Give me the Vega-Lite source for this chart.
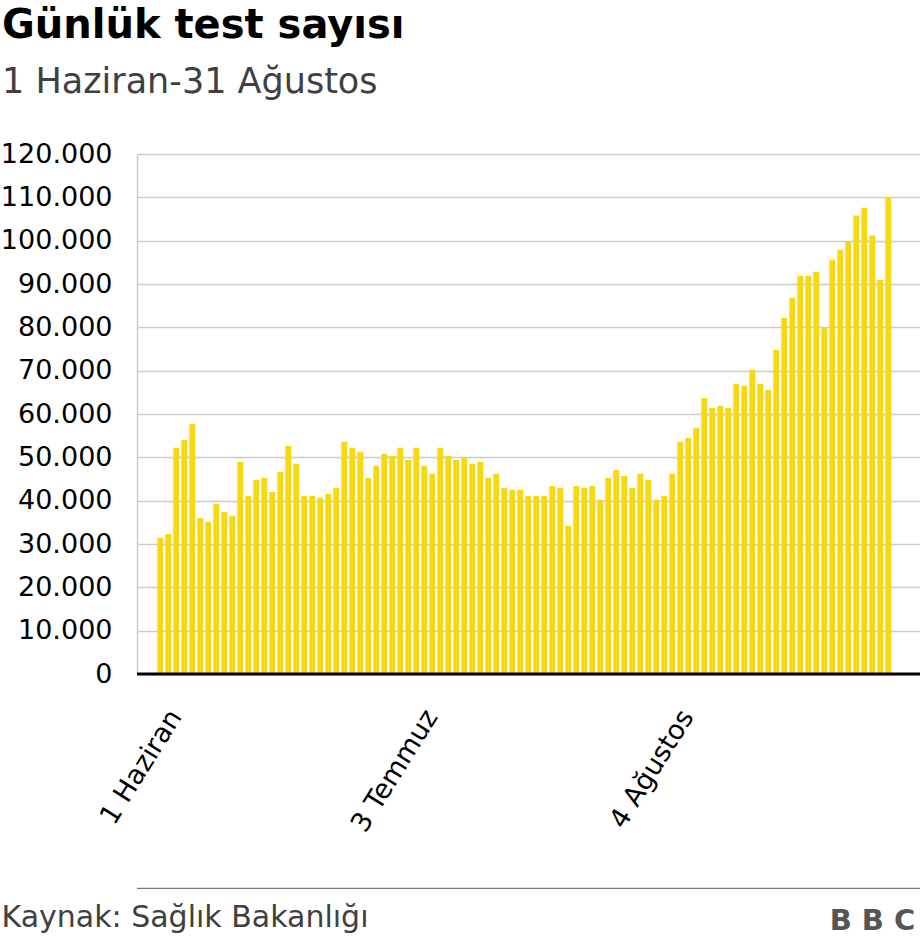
{
  "$schema": "https://vega.github.io/schema/vega-lite/v6.json",
  "width": 783,
  "height": 520,
  "autosize": {"type": "none"},
  "padding": {"left": 137, "top": 154, "right": 0, "bottom": 270},
  "background": "white",
  "title": {
    "text": "Günlük test sayısı",
    "subtitle": "1 Haziran-31 Ağustos",
    "anchor": "start",
    "frame": "group",
    "dx": -135,
    "offset": 40,
    "font": "DejaVu Sans",
    "fontSize": 40,
    "fontWeight": "bold",
    "color": "#000000",
    "subtitleFont": "DejaVu Sans",
    "subtitleFontSize": 35,
    "subtitleColor": "#404040",
    "subtitlePadding": 19
  },
  "data": {
    "values": [
      {"tarih": "2020-06-01", "test": 31400},
      {"tarih": "2020-06-02", "test": 32300},
      {"tarih": "2020-06-03", "test": 52200},
      {"tarih": "2020-06-04", "test": 54000},
      {"tarih": "2020-06-05", "test": 57700},
      {"tarih": "2020-06-06", "test": 36000},
      {"tarih": "2020-06-07", "test": 35100},
      {"tarih": "2020-06-08", "test": 39300},
      {"tarih": "2020-06-09", "test": 37400},
      {"tarih": "2020-06-10", "test": 36500},
      {"tarih": "2020-06-11", "test": 49000},
      {"tarih": "2020-06-12", "test": 41100},
      {"tarih": "2020-06-13", "test": 44800},
      {"tarih": "2020-06-14", "test": 45300},
      {"tarih": "2020-06-15", "test": 42000},
      {"tarih": "2020-06-16", "test": 46700},
      {"tarih": "2020-06-17", "test": 52700},
      {"tarih": "2020-06-18", "test": 48500},
      {"tarih": "2020-06-19", "test": 41100},
      {"tarih": "2020-06-20", "test": 41100},
      {"tarih": "2020-06-21", "test": 40600},
      {"tarih": "2020-06-22", "test": 41600},
      {"tarih": "2020-06-23", "test": 43000},
      {"tarih": "2020-06-24", "test": 53600},
      {"tarih": "2020-06-25", "test": 52200},
      {"tarih": "2020-06-26", "test": 51300},
      {"tarih": "2020-06-27", "test": 45300},
      {"tarih": "2020-06-28", "test": 48000},
      {"tarih": "2020-06-29", "test": 50800},
      {"tarih": "2020-06-30", "test": 50300},
      {"tarih": "2020-07-01", "test": 52200},
      {"tarih": "2020-07-02", "test": 49400},
      {"tarih": "2020-07-03", "test": 52200},
      {"tarih": "2020-07-04", "test": 48000},
      {"tarih": "2020-07-05", "test": 46200},
      {"tarih": "2020-07-06", "test": 52200},
      {"tarih": "2020-07-07", "test": 50300},
      {"tarih": "2020-07-08", "test": 49400},
      {"tarih": "2020-07-09", "test": 49900},
      {"tarih": "2020-07-10", "test": 48500},
      {"tarih": "2020-07-11", "test": 49000},
      {"tarih": "2020-07-12", "test": 45300},
      {"tarih": "2020-07-13", "test": 46200},
      {"tarih": "2020-07-14", "test": 43000},
      {"tarih": "2020-07-15", "test": 42500},
      {"tarih": "2020-07-16", "test": 42500},
      {"tarih": "2020-07-17", "test": 41100},
      {"tarih": "2020-07-18", "test": 41100},
      {"tarih": "2020-07-19", "test": 41100},
      {"tarih": "2020-07-20", "test": 43400},
      {"tarih": "2020-07-21", "test": 43000},
      {"tarih": "2020-07-22", "test": 34200},
      {"tarih": "2020-07-23", "test": 43400},
      {"tarih": "2020-07-24", "test": 43000},
      {"tarih": "2020-07-25", "test": 43400},
      {"tarih": "2020-07-26", "test": 40200},
      {"tarih": "2020-07-27", "test": 45300},
      {"tarih": "2020-07-28", "test": 47100},
      {"tarih": "2020-07-29", "test": 45700},
      {"tarih": "2020-07-30", "test": 43000},
      {"tarih": "2020-07-31", "test": 46200},
      {"tarih": "2020-08-01", "test": 44800},
      {"tarih": "2020-08-02", "test": 40200},
      {"tarih": "2020-08-03", "test": 41100},
      {"tarih": "2020-08-04", "test": 46200},
      {"tarih": "2020-08-05", "test": 53600},
      {"tarih": "2020-08-06", "test": 54500},
      {"tarih": "2020-08-07", "test": 56800},
      {"tarih": "2020-08-08", "test": 63700},
      {"tarih": "2020-08-09", "test": 61400},
      {"tarih": "2020-08-10", "test": 61900},
      {"tarih": "2020-08-11", "test": 61400},
      {"tarih": "2020-08-12", "test": 67000},
      {"tarih": "2020-08-13", "test": 66500},
      {"tarih": "2020-08-14", "test": 70200},
      {"tarih": "2020-08-15", "test": 67000},
      {"tarih": "2020-08-16", "test": 65600},
      {"tarih": "2020-08-17", "test": 74800},
      {"tarih": "2020-08-18", "test": 82200},
      {"tarih": "2020-08-19", "test": 86800},
      {"tarih": "2020-08-20", "test": 91900},
      {"tarih": "2020-08-21", "test": 91900},
      {"tarih": "2020-08-22", "test": 92800},
      {"tarih": "2020-08-23", "test": 79900},
      {"tarih": "2020-08-24", "test": 95600},
      {"tarih": "2020-08-25", "test": 97900},
      {"tarih": "2020-08-26", "test": 99800},
      {"tarih": "2020-08-27", "test": 105800},
      {"tarih": "2020-08-28", "test": 107600},
      {"tarih": "2020-08-29", "test": 101200},
      {"tarih": "2020-08-30", "test": 91000},
      {"tarih": "2020-08-31", "test": 109900}
    ]
  },
  "layer": [
    {
      "mark": {"type": "bar", "color": "#f6d913", "width": 6},
      "encoding": {
        "x": {
          "field": "tarih",
          "type": "temporal",
          "scale": {
            "type": "utc",
            "nice": false,
            "padding": 0,
            "domain": [
              {"year": 2020, "month": 5, "date": 29, "hours": 2, "minutes": 6, "utc": true},
              {"year": 2020, "month": 9, "date": 3, "hours": 23, "minutes": 6, "utc": true}
            ]
          },
          "axis": {
            "values": [
              {"year": 2020, "month": 6, "date": 1, "utc": true},
              {"year": 2020, "month": 7, "date": 3, "utc": true},
              {"year": 2020, "month": 8, "date": 4, "utc": true}
            ],
            "labelExpr": "utcdate(datum.value) + ' ' + ['Ocak','Şubat','Mart','Nisan','Mayıs','Haziran','Temmuz','Ağustos','Eylül','Ekim','Kasım','Aralık'][utcmonth(datum.value)]",
            "labelAngle": -58,
            "labelAlign": "right",
            "labelBaseline": "middle",
            "labelFont": "DejaVu Sans",
            "labelFontSize": 27,
            "labelColor": "#000000",
            "labelOffset": 15,
            "labelPadding": 38,
            "labelOverlap": false,
            "labelBound": false,
            "labelFlush": false,
            "ticks": false,
            "grid": false,
            "domain": false,
            "zindex": 1,
            "title": "Kaynak: Sağlık Bakanlığı",
            "titleFont": "DejaVu Sans",
            "titleFontSize": 30,
            "titleFontWeight": "normal",
            "titleColor": "#404040",
            "titleAnchor": "start",
            "titleAlign": "left",
            "titleBaseline": "alphabetic",
            "titleAngle": 0,
            "titleX": -136,
            "titleY": 252.7
          }
        },
        "y": {
          "field": "test",
          "type": "quantitative",
          "scale": {"domain": [0, 120000], "nice": false, "zero": true},
          "axis": {
            "values": [0, 10000, 20000, 30000, 40000, 50000, 60000, 70000, 80000, 90000, 100000, 110000, 120000],
            "labelExpr": "replace(format(datum.value, ','), ',', '.')",
            "labelFont": "DejaVu Sans",
            "labelFontSize": 27,
            "labelColor": "#000000",
            "labelPadding": 25,
            "ticks": false,
            "domain": true,
            "domainColor": "#cccccc",
            "domainWidth": 1.5,
            "grid": true,
            "gridColor": "#cccccc",
            "gridWidth": 1.5,
            "title": null
          }
        }
      }
    },
    {
      "data": {"values": [{"ayirici": "alt çizgi", "deger": -49450}]},
      "mark": {"type": "rule", "color": "#777777", "strokeWidth": 1.3},
      "encoding": {
        "y": {"field": "deger", "type": "quantitative", "axis": null}
      }
    },
    {
      "data": {"values": [{"taban": 0}]},
      "mark": {"type": "rule", "color": "#000000", "strokeWidth": 3},
      "encoding": {
        "y": {
          "field": "taban",
          "type": "quantitative",
          "axis": {
            "orient": "right",
            "labels": false,
            "ticks": false,
            "domain": false,
            "grid": false,
            "title": "B B C",
            "titleFont": "DejaVu Sans",
            "titleFontSize": 29,
            "titleFontWeight": "bold",
            "titleColor": "#555555",
            "titleAngle": 0,
            "titleAlign": "center",
            "titleBaseline": "alphabetic",
            "titleX": -48,
            "titleY": 775
          }
        }
      }
    }
  ],
  "resolve": {"axis": {"y": "independent"}},
  "config": {
    "view": {"stroke": null},
    "font": "DejaVu Sans"
  }
}
